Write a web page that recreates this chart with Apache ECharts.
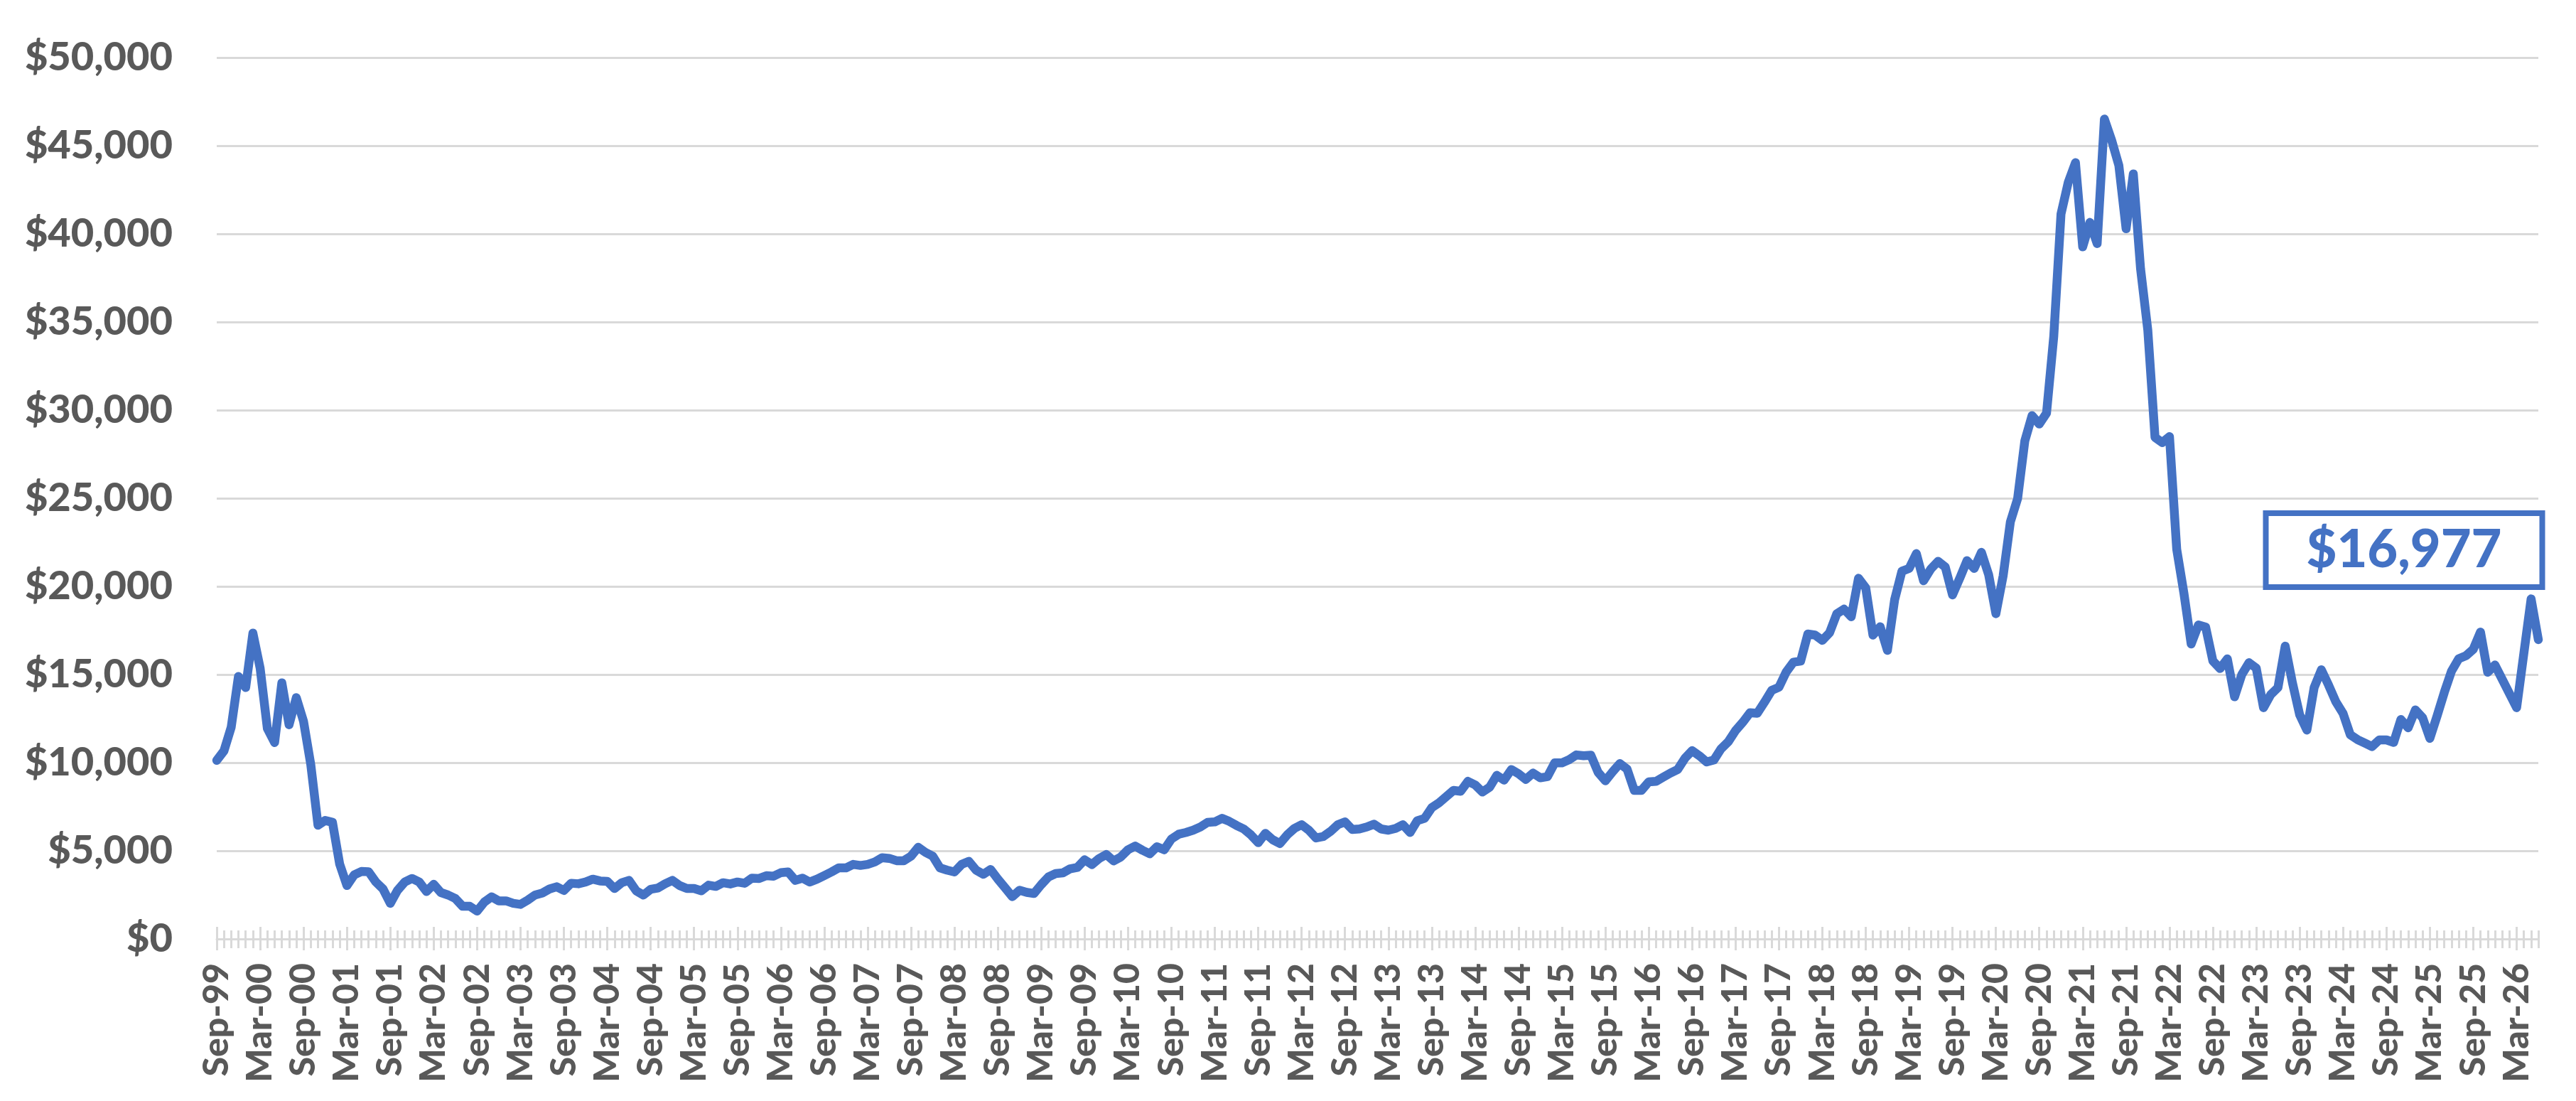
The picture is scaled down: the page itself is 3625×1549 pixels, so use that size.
<!DOCTYPE html>
<html>
<head>
<meta charset="utf-8">
<script src="https://cdn.jsdelivr.net/npm/echarts@6/dist/echarts.min.js"></script>
<style>
  html, body { margin: 0; padding: 0; background: #ffffff; }
  #chart { width: 3625px; height: 1549px; }
</style>
</head>
<body>
<div id="chart"></div>
<script>
// Monthly values, Sep-99 .. Jun-26
const values = [
  10130, 10670, 12010, 14890, 14260, 17350, 15360, 11940, 11140, 14530,
  12150, 13690, 12350, 9900, 6450, 6720, 6620, 4240, 3030, 3630,
  3830, 3810, 3230, 2830, 2020, 2760, 3230, 3430, 3230, 2690,
  3100, 2630, 2490, 2290, 1850, 1850, 1580, 2090, 2390, 2160,
  2160, 2020, 1960, 2200, 2490, 2600, 2830, 2960, 2750, 3160,
  3130, 3230, 3390, 3290, 3270, 2860, 3190, 3320, 2730, 2490,
  2820, 2890, 3130, 3320, 3030, 2860, 2860, 2730, 3050, 2980,
  3190, 3120, 3230, 3160, 3450, 3430, 3590, 3560, 3760, 3800,
  3320, 3450, 3230, 3390, 3590, 3800, 4030, 4030, 4230, 4170,
  4230, 4370, 4610, 4570, 4440, 4440, 4700, 5200, 4910, 4700,
  4030, 3900, 3800, 4230, 4400, 3900, 3670, 3940, 3400, 2900,
  2400, 2760, 2640, 2580, 3080, 3520, 3710, 3750, 3980, 4060,
  4490, 4220, 4560, 4790, 4430, 4650, 5060, 5270, 5030, 4830,
  5230, 5060, 5670, 5940, 6040, 6170, 6350, 6610, 6640, 6840,
  6670, 6440, 6240, 5900, 5460, 5990, 5630, 5410, 5900, 6270,
  6480, 6170, 5730, 5810, 6100, 6480, 6640, 6210, 6240, 6350,
  6510, 6240, 6170, 6270, 6480, 6040, 6710, 6840, 7450, 7720,
  8070, 8430, 8380, 8940, 8740, 8340, 8610, 9280, 9010, 9610,
  9370, 9050, 9410, 9140, 9210, 9990, 9990, 10170, 10440, 10390,
  10420, 9450, 8970, 9480, 9950, 9640, 8430, 8430, 8910, 8940,
  9180, 9410, 9610, 10250, 10680, 10390, 10040, 10150, 10790, 11190,
  11820, 12290, 12830, 12800, 13430, 14100, 14280, 15140, 15700, 15760,
  17300, 17240, 16940, 17370, 18450, 18710, 18280, 20460, 19920, 17240,
  17710, 16370, 19250, 20860, 21020, 21860, 20320, 20990, 21420, 21100,
  19520, 20460, 21460, 21020, 21930, 20660, 18450, 20600, 23660, 24980,
  28260, 29690, 29210, 29830, 34190, 41120, 42920, 44040, 39260, 40650,
  39450, 46510, 45310, 43880, 40290, 43400, 38020, 34550, 28450, 28160,
  28500, 22110, 19600, 16730, 17810, 17690, 15770, 15340, 15890, 13740,
  15000, 15670, 15360, 13120, 13860, 14260, 16610, 14530, 12720, 11850,
  14260, 15270, 14400, 13460, 12790, 11580, 11310, 11110, 10910, 11290,
  11290, 11150, 12450, 11980, 12990, 12550, 11380, 12650, 13990, 15200,
  15900, 16070, 16430, 17410, 15130, 15540, 14730, 13930, 13120, 16210,
  19290, 16977
];

// Category labels (month-year), starting Sep-99
const monthNames = ['Jan','Feb','Mar','Apr','May','Jun','Jul','Aug','Sep','Oct','Nov','Dec'];
const categories = [];
for (let i = 0; i < values.length; i++) {
  const k = 8 + i;
  const yy = (1999 + Math.floor(k / 12)) % 100;
  categories.push(monthNames[k % 12] + '-' + String(yy).padStart(2, '0'));
}

// Y axis ticks
const yMin = 0, yMax = 50000, yStep = 5000;

const TEXT = '#595959';
const GRID = '#d9d9d9';
const BLUE = '#4472C4';
const FONT = 'Lato, "Open Sans", sans-serif';
const money = v => '$' + Number(v).toLocaleString('en-US');

function tickAxis(len, inside, every) {
  return {
    type: 'category', data: categories, boundaryGap: false, position: 'bottom', gridIndex: 0,
    axisLine: { show: false },
    axisLabel: { show: false },
    axisTick: { show: true, inside: inside, length: len, interval: every, lineStyle: { color: GRID, width: 3 } },
    splitLine: { show: false }
  };
}

const chart = echarts.init(document.getElementById('chart'), null, { renderer: 'canvas' });
chart.setOption({
  animation: false,
  backgroundColor: '#ffffff',
  grid: { left: 305, right: 53, top: 81, bottom: 228, containLabel: false },
  xAxis: [
    {
      type: 'category', data: categories, boundaryGap: false, position: 'bottom',
      axisLine: { show: true, lineStyle: { color: GRID, width: 3 } },
      axisTick: { show: true, inside: false, length: 13, interval: 0, lineStyle: { color: GRID, width: 3 } },
      axisLabel: {
        show: true, interval: 5, rotate: 90, margin: 34,
        color: TEXT, fontFamily: FONT, fontWeight: 900, fontSize: 50
      },
      splitLine: { show: false }
    },
    tickAxis(12, true, 0),
    tickAxis(16, false, 5),
    tickAxis(17, true, 5)
  ],
  yAxis: {
    type: 'value', min: yMin, max: yMax, interval: yStep,
    axisLine: { show: false }, axisTick: { show: false },
    axisLabel: {
      formatter: money, margin: 62,
      color: TEXT, fontFamily: FONT, fontWeight: 900, fontSize: 56
    },
    splitLine: { show: true, lineStyle: { color: GRID, width: 3 } }
  },
  series: [{
    type: 'line',
    xAxisIndex: 0,
    data: values,
    showSymbol: false,
    symbol: 'none',
    lineStyle: { color: BLUE, width: 12.5, cap: 'round', join: 'round' },
    silent: true,
    markPoint: {
      silent: true,
      symbol: 'circle',
      symbolSize: 1,
      itemStyle: { color: 'rgba(0,0,0,0)' },
      label: {
        show: true,
        position: 'inside',
        offset: [-189, -126],
        formatter: p => money(p.value),
        color: BLUE, fontFamily: FONT, fontWeight: 900, fontSize: 74, lineHeight: 74,
        backgroundColor: '#ffffff', borderColor: BLUE, borderWidth: 8,
        padding: [11, 53]
      },
      data: [{ coord: [categories[values.length - 1], values[values.length - 1]], value: values[values.length - 1] }]
    }
  }]
});
</script>
</body>
</html>
